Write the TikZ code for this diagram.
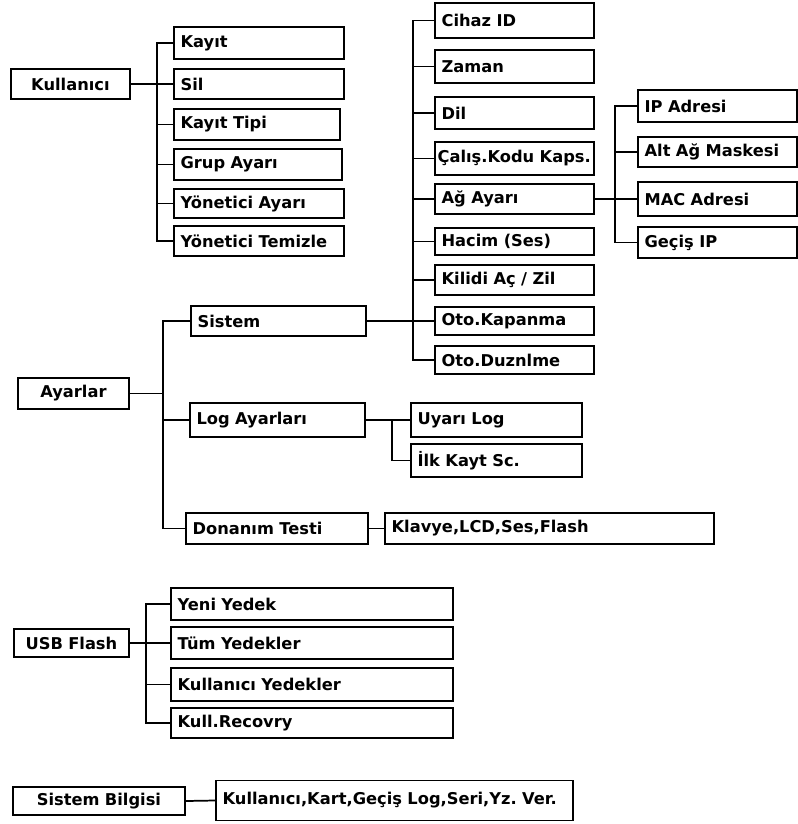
\documentclass[tikz,border=0pt]{standalone}
\usepackage{fontspec}
\setmainfont{DejaVu Sans}
\frenchspacing

\tikzset{
  kutu/.style={draw, line width=1.4pt, anchor=west, align=left, inner xsep=5pt, inner ysep=0pt,
               minimum height=23pt, font=\bfseries\fontsize{12.2}{14}\selectfont},
  kok/.style={kutu, align=center},
  hat/.style={line width=1.3pt},
}

\begin{document}
\begin{tikzpicture}[x=0.75pt,y=-0.75pt]
\useasboundingbox (0,0) rectangle (798,824);

\node[kok, text width=79.25pt, minimum height=22pt] (kul) at (10,84) {Kullanıcı};
\node[kutu, text width=117.5pt, minimum height=24pt] (kayit) at (173,43) {Kayıt};
\node[kutu, text width=117.5pt] (sil) at (173,84) {Sil};
\node[kutu, text width=114.5pt] (tipi) at (173,124.5) {Kayıt Tipi};
\node[kutu, text width=116pt] (grup) at (173,164.5) {Grup Ayarı};
\node[kutu, text width=117.5pt, minimum height=22pt] (ayari) at (173,203.5) {Yönetici Ayarı};
\node[kutu, text width=117.5pt] (temizle) at (173,241) {Yönetici Temizle};

\node[kok, text width=73.25pt] (ayar) at (17,393.5) {Ayarlar};
\node[kutu, text width=121.25pt] (sistem) at (190,321) {Sistem};
\node[kutu, text width=121.25pt, minimum height=25pt] (log) at (189,420) {Log Ayarları};
\node[kutu, text width=126.5pt] (donanim) at (185,528.5) {Donanım Testi};

\node[kutu, text width=109.25pt, minimum height=26pt] (cihaz) at (434,20.5) {Cihaz ID};
\node[kutu, text width=109.25pt, minimum height=25pt] (zaman) at (434,66.5) {Zaman};
\node[kutu, text width=109.25pt, minimum height=24pt] (dil) at (434,113) {Dil};
\node[kutu, text width=115.25pt, inner xsep=2pt, minimum height=25pt] (calis) at (434,158.5) {Çalış.Kodu Kaps.};
\node[kutu, text width=109.25pt] (ag) at (434,199) {Ağ Ayarı};
\node[kutu, text width=109.25pt, minimum height=20.5pt] (hacim) at (434,241.5) {Hacim (Ses)};
\node[kutu, text width=109.25pt, minimum height=22.5pt] (kilit) at (434,280) {Kilidi Aç / Zil};
\node[kutu, text width=109.25pt, minimum height=21pt] (kapan) at (434,321) {Oto.Kapanma};
\node[kutu, text width=109.25pt, minimum height=21pt] (duzen) at (434,360) {Oto.Duznlme};

\node[kutu, text width=109.25pt, minimum height=24pt] (ip) at (637,106) {IP Adresi};
\node[kutu, text width=109.25pt, minimum height=22.5pt] (alt) at (637,152) {Alt Ağ Maskesi};
\node[kutu, text width=109.25pt, minimum height=25pt] (mac) at (637,199) {MAC Adresi};
\node[kutu, text width=109.25pt] (gecis) at (637,242.5) {Geçiş IP};

\node[kutu, text width=118.25pt, minimum height=25.5pt] (uyari) at (410,420) {Uyarı Log};
\node[kutu, text width=118.25pt, minimum height=25pt] (ilk) at (410,460.5) {İlk Kayt Sc.};
\node[kutu, text width=236.75pt] (klavye) at (384,528.5) {Klavye,LCD,Ses,Flash};

\node[kok, text width=76.25pt, minimum height=21pt] (usb) at (13,643) {USB Flash};
\node[kutu, text width=201.5pt, minimum height=24pt] (yeni) at (170,604) {Yeni Yedek};
\node[kutu, text width=201.5pt, minimum height=24pt] (tum) at (170,643) {Tüm Yedekler};
\node[kutu, text width=201.5pt, minimum height=25pt] (kyedek) at (170,684.5) {Kullanıcı Yedekler};
\node[kutu, text width=201.5pt, minimum height=22.5pt] (recov) at (170,723) {Kull.Recovry};

\node[kok, text width=119pt, minimum height=21pt] (bilgi) at (12,801) {Sistem Bilgisi};
\node[kutu, text width=257.75pt, minimum height=30pt] (bver) at (215,800.5) {Kullanıcı,Kart,Geçiş Log,Seri,Yz. Ver.};

\coordinate (kulT) at (157,0);
\coordinate (ayarT) at (163,0);
\coordinate (sisT) at (413,0);
\coordinate (agT) at (615,0);
\coordinate (logT) at (392,0);
\coordinate (usbT) at (146,0);

\draw[hat] (kul.east) -- (kul.east -| kulT);
\draw[hat] (kayit.west) -| (kulT |- temizle.west) -- (temizle.west);
\foreach \k in {sil,tipi,grup,ayari} \draw[hat] (\k.west) -- (\k.west -| kulT);

\draw[hat] (ayar.east) -- (ayar.east -| ayarT);
\draw[hat] (sistem.west) -| (ayarT |- donanim.west) -- (donanim.west);
\draw[hat] (log.west) -- (log.west -| ayarT);

\draw[hat] (sistem.east) -- (sistem.east -| sisT);
\draw[hat] (cihaz.west) -| (sisT |- duzen.west) -- (duzen.west);
\foreach \k in {zaman,dil,calis,ag,hacim,kilit,kapan} \draw[hat] (\k.west) -- (\k.west -| sisT);

\draw[hat] (ag.east) -- (ag.east -| agT);
\draw[hat] (ip.west) -| (agT |- gecis.west) -- (gecis.west);
\foreach \k in {alt,mac} \draw[hat] (\k.west) -- (\k.west -| agT);

\draw[hat] (log.east) -- (uyari.west);
\draw[hat] (log.east -| logT) |- (ilk.west);
\draw[hat] (donanim.east) -- (klavye.west);

\draw[hat] (usb.east) -- (usb.east -| usbT);
\draw[hat] (yeni.west) -| (usbT |- recov.west) -- (recov.west);
\foreach \k in {tum,kyedek} \draw[hat] (\k.west) -- (\k.west -| usbT);

\draw[hat] (bilgi.east) -- (bver.west);
\end{tikzpicture}
\end{document}
